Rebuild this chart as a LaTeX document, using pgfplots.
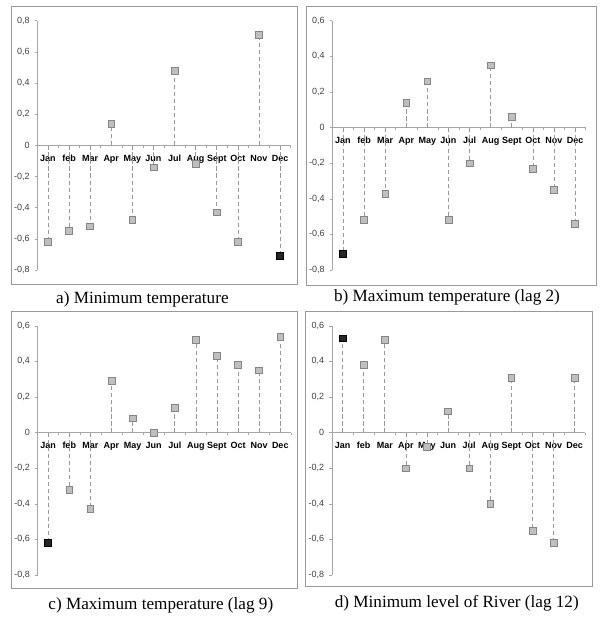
\documentclass[border=0pt]{standalone}
\usepackage{fontspec}
\setmainfont{Liberation Serif}
\newfontfamily\arial{Liberation Sans}
\usepackage{pgfplots}
\usepackage{pgfplotstable}
\pgfplotsset{compat=1.18}
\definecolor{cAx}{HTML}{A6A6A6}
\definecolor{cBox}{HTML}{9A9A9A}
\definecolor{cMk}{HTML}{BFBFBF}
\definecolor{cMkE}{HTML}{858585}
\definecolor{cDark}{HTML}{262626}
\definecolor{cDrop}{HTML}{999999}
\definecolor{cLab}{HTML}{404040}

% month index (0 = Jan) and coefficient
\pgfplotstableread{
m v
0 -0.62
1 -0.55
2 -0.52
3 0.14
4 -0.48
5 -0.14
6 0.48
7 -0.12
8 -0.43
9 -0.62
10 0.71
11 -0.71
}\tabA
\pgfplotstableread{
m v
0 -0.71
1 -0.52
2 -0.37
3 0.14
4 0.26
5 -0.52
6 -0.20
7 0.35
8 0.06
9 -0.23
10 -0.35
11 -0.54
}\tabB
\pgfplotstableread{
m v
0 -0.62
1 -0.32
2 -0.43
3 0.29
4 0.08
5 0.00
6 0.14
7 0.52
8 0.43
9 0.38
10 0.35
11 0.54
}\tabC
\pgfplotstableread{
m v
0 0.53
1 0.38
2 0.52
3 -0.20
4 -0.08
5 0.12
6 -0.20
7 -0.40
8 0.31
9 -0.55
10 -0.62
11 0.31
}\tabD

\pgfplotsset{
  panel/.style={
    scale only axis, width=63.3mm, height=62.3mm, anchor=south west,
    xmin=-0.5, xmax=11.5, ymin=-0.8,
    axis x line=middle, axis y line=left,
    axis line style={draw=cAx, line width=0.5pt, -},
    xtick={0,...,11},
    xticklabels={Jan,feb,Mar,Apr,May,Jun,Jul,Aug,Sept,Oct,Nov,Dec},
    x tick label style={font=\arial\bfseries\fontsize{6.4}{7}\selectfont, black, anchor=north, yshift=-1.5pt},
    major x tick style={draw=none},
    minor xtick={-0.5,0.5,...,11.5},
    minor x tick style={draw=cAx, line width=0.4pt},
    ytick distance=0.2,
    y tick style={draw=cAx, line width=0.4pt},
    y tick label style={font=\arial\fontsize{6.4}{7}\selectfont, cLab},
    /pgf/number format/fixed, /pgf/number format/precision=1,
    /pgf/number format/use comma, /pgf/number format/assume math mode=true,
    tick align=outside, major tick length=2pt, minor tick length=2pt,
    clip=false,
  },
  drop/.style={ycomb, mark=none, draw=cDrop, line width=0.5pt, dash pattern=on 3pt off 2pt},
  pt/.style={only marks, mark=square*, mark size=2.4pt, mark options={fill=cMk, draw=cMkE, line width=0.4pt, solid}},
  ptd/.style={only marks, mark=square*, mark size=2.4pt, mark options={fill=cDark, draw=black, line width=0.4pt, solid}},
}

\begin{document}
\begin{tikzpicture}
\useasboundingbox (0,0) rectangle (150mm,156mm);

\begin{axis}[panel, at={(9.35mm,88.5mm)}, ymax=0.8]
  \addplot[drop] table[x=m,y=v] {\tabA};
  \addplot[pt] table[x=m,y=v] {\tabA};
  \addplot[ptd] coordinates {(11,-0.71)};
\end{axis}

\begin{axis}[panel, at={(83.1mm,88.5mm)}, ymax=0.6]
  \addplot[drop] table[x=m,y=v] {\tabB};
  \addplot[pt] table[x=m,y=v] {\tabB};
  \addplot[ptd] coordinates {(0,-0.71)};
\end{axis}

\begin{axis}[panel, at={(9.4mm,12.25mm)}, ymax=0.6]
  \addplot[drop] table[x=m,y=v] {\tabC};
  \addplot[pt] table[x=m,y=v] {\tabC};
  \addplot[ptd] coordinates {(0,-0.62)};
\end{axis}

\begin{axis}[panel, at={(83mm,12.25mm)}, ymax=0.6]
  \addplot[drop] table[x=m,y=v] {\tabD};
  \addplot[pt] table[x=m,y=v] {\tabD};
  \addplot[ptd] coordinates {(0,0.53)};
\end{axis}

\draw[cBox, line width=0.5pt] (2.75mm,85mm) rectangle (74.25mm,154.5mm);
\draw[cBox, line width=0.5pt] (76.5mm,84.75mm) rectangle (149mm,154.5mm);
\draw[cBox, line width=0.5pt] (2.75mm,9mm) rectangle (74.25mm,78.25mm);
\draw[cBox, line width=0.5pt] (76.25mm,9.5mm) rectangle (148mm,78.25mm);

\node[font=\fontsize{12.2}{14}\selectfont] at (35.6mm,81.1mm) {a) Minimum temperature};
\node[font=\fontsize{12.2}{14}\selectfont] at (111.75mm,81.6mm) {b) Maximum temperature (lag 2)};
\node[font=\fontsize{12.2}{14}\selectfont] at (40.2mm,4.6mm) {c) Maximum temperature (lag 9)};
\node[font=\fontsize{12.2}{14}\selectfont] at (114.2mm,5.1mm) {d) Minimum level of River (lag 12)};
\end{tikzpicture}
\end{document}
